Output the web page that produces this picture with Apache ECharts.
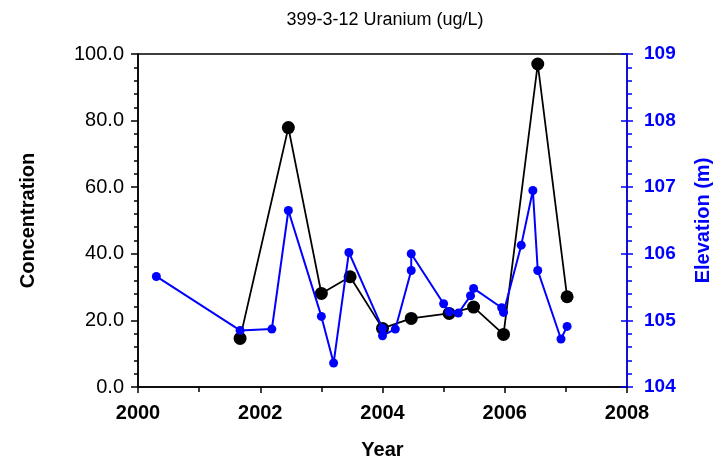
<!DOCTYPE html>
<html>
<head>
<meta charset="utf-8">
<script src="https://cdn.jsdelivr.net/npm/echarts@6/dist/echarts.min.js"></script>
<style>
  html, body { margin: 0; padding: 0; background: #fff; }
  #chart { width: 713px; height: 465px; }
</style>
</head>
<body>
<div id="chart"></div>
<script>
// concentration samples (ug/L)
var concYears = [2001.67, 2002.46, 2003.0, 2003.47, 2004.0, 2004.47, 2005.09, 2005.49, 2005.98, 2006.54, 2007.02];
var concValues = [14.6, 77.9, 28.1, 33.1, 17.6, 20.6, 22.1, 24.0, 15.8, 97.0, 27.1];

// water elevation (m)
var elevYears = [2000.30, 2001.67, 2002.19, 2002.46, 2003.0, 2003.2, 2003.45, 2004.0, 2004.0, 2004.21,
  2004.47, 2004.47, 2005.0, 2005.09, 2005.24, 2005.44, 2005.49, 2005.95, 2005.98, 2006.27,
  2006.46, 2006.54, 2006.92, 2007.02];
var elevValues = [105.66, 104.85, 104.87, 106.65, 105.06, 104.36, 106.02, 104.88, 104.77, 104.87,
  105.75, 106.0, 105.25, 105.13, 105.11, 105.37, 105.48, 105.19, 105.12, 106.13,
  106.95, 105.75, 104.72, 104.91];

var font = 'Liberation Sans, Arial, sans-serif';

var myChart = echarts.init(document.getElementById('chart'));
myChart.setOption({
  animation: false,
  title: {
    text: '399-3-12 Uranium (ug/L)',
    left: 380,
    top: 6,
    textAlign: 'center',
    textStyle: { fontFamily: font, fontSize: 18, fontWeight: 'normal', color: '#000' }
  },
  grid: {
    left: 138, right: 86, top: 54, bottom: 78,
    outerBoundsMode: 'none',
    containLabel: false,
    show: true,
    borderColor: '#000',
    borderWidth: 1.5
  },
  xAxis: {
    type: 'value',
    min: 2000, max: 2008, interval: 2,
    name: 'Year',
    nameLocation: 'middle',
    nameGap: 53,
    nameTextStyle: { fontFamily: font, fontSize: 20, fontWeight: 'bold', color: '#000' },
    axisLine: { lineStyle: { color: '#000', width: 1.5 } },
    axisTick: { length: 6, lineStyle: { color: '#000', width: 1.5 } },
    minorTick: { show: true, splitNumber: 2, length: 5, lineStyle: { color: '#000', width: 1.5 } },
    splitLine: { show: false },
    axisLabel: {
      margin: 16,
      fontFamily: font, fontSize: 20, fontWeight: 'bold', color: '#000',
      formatter: function (v) { return String(v); }
    }
  },
  yAxis: [
    {
      type: 'value',
      position: 'left',
      min: 0, max: 100, interval: 20,
      name: 'Concentration',
      nameLocation: 'middle',
      nameGap: 100,
      nameTextStyle: { fontFamily: font, fontSize: 20, fontWeight: 'bold', color: '#000' },
      axisLine: { show: true, lineStyle: { color: '#000', width: 1.5 } },
      axisTick: { show: true, length: 7, lineStyle: { color: '#000', width: 1.5 } },
      minorTick: { show: true, splitNumber: 5, length: 4, lineStyle: { color: '#000', width: 1.5 } },
      splitLine: { show: false },
      axisLabel: {
        margin: 14,
        fontFamily: font, fontSize: 20, color: '#000',
        formatter: function (v) { return v.toFixed(1); }
      }
    },
    {
      type: 'value',
      position: 'right',
      min: 104, max: 109, interval: 1,
      name: 'Elevation (m)',
      nameLocation: 'middle',
      nameGap: 66,
      nameRotate: 90,
      nameTextStyle: { fontFamily: font, fontSize: 20, fontWeight: 'bold', color: '#0000ff' },
      axisLine: { show: true, lineStyle: { color: '#0000ff', width: 1.5 } },
      axisTick: { show: true, length: 6, lineStyle: { color: '#0000ff', width: 1.5 } },
      minorTick: { show: true, splitNumber: 5, length: 5, lineStyle: { color: '#0000ff', width: 1.5 } },
      splitLine: { show: false },
      axisLabel: {
        margin: 17,
        fontFamily: font, fontSize: 19, fontWeight: 'bold', color: '#0000ff'
      }
    },
    {
      // inner half of the major ticks on the right axis
      type: 'value',
      position: 'right',
      min: 104, max: 109, interval: 1,
      axisLine: { show: false },
      axisTick: { show: true, inside: true, length: 6, lineStyle: { color: '#0000ff', width: 1.5 } },
      axisLabel: { show: false },
      splitLine: { show: false }
    }
  ],
  series: [
    {
      name: 'Uranium',
      type: 'line',
      yAxisIndex: 0,
      symbol: 'circle',
      symbolSize: 13,
      itemStyle: { color: '#000' },
      lineStyle: { color: '#000', width: 1.8 },
      data: concYears.map(function (y, i) { return [y, concValues[i]]; }),
      z: 2
    },
    {
      name: 'Elevation',
      type: 'line',
      yAxisIndex: 1,
      symbol: 'circle',
      symbolSize: 9,
      itemStyle: { color: '#0000ff' },
      lineStyle: { color: '#0000ff', width: 2 },
      data: elevYears.map(function (y, i) { return [y, elevValues[i]]; }),
      z: 3
    }
  ]
});
</script>
</body>
</html>
